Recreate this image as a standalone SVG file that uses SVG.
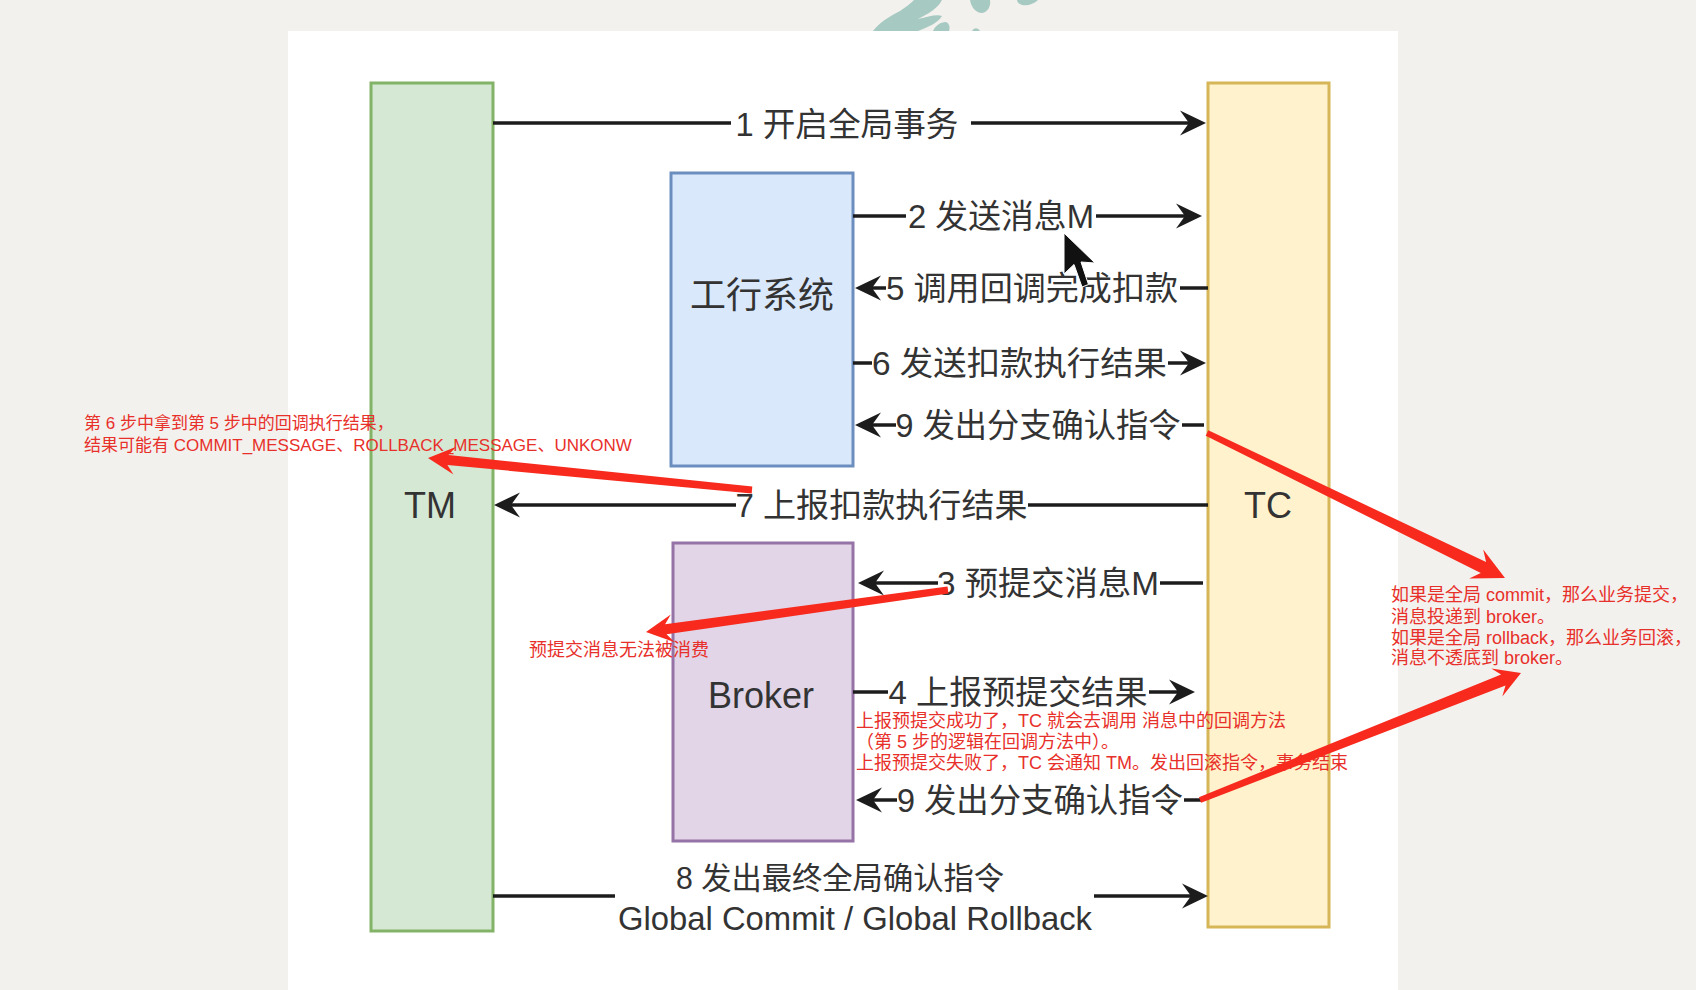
<svg xmlns="http://www.w3.org/2000/svg" width="1696" height="990" viewBox="0 0 1696 990">
<style>
.box{stroke-width:3}
.lbl{font-family:"Liberation Sans","Noto Sans CJK SC",sans-serif;font-size:33px;fill:#333;text-anchor:middle}
.big{font-family:"Liberation Sans","Noto Sans CJK SC",sans-serif;font-size:36px;fill:#333;text-anchor:middle}
.ln{stroke:#1c1c1c;stroke-width:3.5;fill:none}
.note{font-family:"Liberation Sans","Noto Sans CJK SC",sans-serif;font-size:18px;fill:#e8302a}
.red{fill:#f72a1d}
</style>
<defs>
<marker id="ah" viewBox="-19 -13 28 26" refX="0" refY="0" markerWidth="28" markerHeight="26" markerUnits="userSpaceOnUse" orient="auto">
<path d="M8,0 L-18,-12.5 L-9,0 L-18,12.5 Z" fill="#1c1c1c"/>
</marker>
</defs>
<rect x="0" y="0" width="1696" height="990" fill="#f3f1ee"/>
<g id="watermark" fill="#a6c9c2">
<path d="M873,31 C880,22 890,16 900,11 C906,7 911,3 914,0 L942,0 C938,8 928,14 918,19 C928,17 936,14 942,16 C938,23 928,27 918,31 Z"/>
<path d="M933,31 C935,26 940,22 946,22 C950,24 950,28 949,31 Z"/>
<path d="M970,0 L990,0 C991,6 988,12 982,13 C976,13 971,7 970,0 Z"/>
<path d="M1017,0 L1038,0 C1034,4 1028,6 1022,5 C1019,4 1017,2 1017,0 Z"/>
<path d="M972,31 C974,28 977,27 980,31 Z"/>
</g>
<rect x="288" y="31" width="1110" height="959" fill="#ffffff"/>
<g id="node-tm">
<rect class="box" x="371" y="83" width="122" height="848" fill="#d5e8d4" stroke="#82b366"/>
<text class="big" x="430" y="518">TM</text>
</g>
<g id="node-tc">
<rect class="box" x="1208" y="83" width="121" height="844" fill="#fff2cc" stroke="#d6b656"/>
<text class="big" x="1268" y="518">TC</text>
</g>
<g id="node-icbc">
<rect class="box" x="671" y="173" width="182" height="293" fill="#dae8fc" stroke="#6c8ebf"/>
<text class="big" x="762" y="308">工行系统</text>
</g>
<g id="node-broker">
<rect class="box" x="673" y="543" width="180" height="298" fill="#e1d5e7" stroke="#9673a6"/>
<text class="big" x="761" y="708">Broker</text>
</g>
<g id="connectors">
<path class="ln" d="M493,123 H731"/><path class="ln" d="M971,123 H1198" marker-end="url(#ah)"/>
<text class="lbl" x="847" y="136" textLength="223" lengthAdjust="spacingAndGlyphs">1 开启全局事务</text>
<path class="ln" d="M853,216 H906"/><path class="ln" d="M1096,216 H1194" marker-end="url(#ah)"/>
<text class="lbl" x="1001" y="228" textLength="186" lengthAdjust="spacingAndGlyphs">2 发送消息M</text>
<path class="ln" d="M1208,288 H1180"/><path class="ln" d="M886,288 H863" marker-end="url(#ah)"/>
<text class="lbl" x="1032" y="300" textLength="292" lengthAdjust="spacingAndGlyphs">5 调用回调完成扣款</text>
<path class="ln" d="M853,363 H872"/><path class="ln" d="M1168,363 H1198" marker-end="url(#ah)"/>
<text class="lbl" x="1019.5" y="375" textLength="295" lengthAdjust="spacingAndGlyphs">6 发送扣款执行结果</text>
<path class="ln" d="M1204,425 H1182"/><path class="ln" d="M896,425 H863" marker-end="url(#ah)"/>
<text class="lbl" x="1038" y="437" textLength="285" lengthAdjust="spacingAndGlyphs">9 发出分支确认指令</text>
<path class="ln" d="M1208,505 H1028"/><path class="ln" d="M736,505 H502" marker-end="url(#ah)"/>
<text class="lbl" x="881.5" y="517" textLength="292" lengthAdjust="spacingAndGlyphs">7 上报扣款执行结果</text>
<path class="ln" d="M1203,583 H1160"/><path class="ln" d="M938,583 H866" marker-end="url(#ah)"/>
<text class="lbl" x="1048" y="595" textLength="222" lengthAdjust="spacingAndGlyphs">3 预提交消息M</text>
<path class="ln" d="M853,692 H888"/><path class="ln" d="M1149,692 H1187" marker-end="url(#ah)"/>
<text class="lbl" x="1018" y="704" textLength="259" lengthAdjust="spacingAndGlyphs">4 上报预提交结果</text>
<path class="ln" d="M1203,800 H1184"/><path class="ln" d="M897,800 H864" marker-end="url(#ah)"/>
<text class="lbl" x="1040" y="812" textLength="286" lengthAdjust="spacingAndGlyphs">9 发出分支确认指令</text>
<path class="ln" d="M493,896 H615"/><path class="ln" d="M1094,896 H1200" marker-end="url(#ah)"/>
<text class="lbl" x="840" y="889" style="font-size:31px" textLength="328" lengthAdjust="spacingAndGlyphs">8 发出最终全局确认指令</text>
<text class="lbl" x="855" y="930" textLength="474" lengthAdjust="spacingAndGlyphs">Global Commit / Global Rollback</text>
</g>
<g id="cursor">
<path d="M1064,233 L1064,274 L1074,264.5 L1082,287 L1088.5,284.5 L1081,262 L1095,263 Z" fill="#111" stroke="#fff" stroke-width="1"/>
</g>
<g id="annotations">
<text class="note" style="font-size:17px" x="84" y="429">第 6 步中拿到第 5 步中的回调执行结果，</text>
<text class="note" style="font-size:17px" x="84" y="450.5">结果可能有 COMMIT_MESSAGE、ROLLBACK_MESSAGE、UNKONW</text>
<text class="note" x="529" y="656">预提交消息无法被消费</text>
<text class="note" x="856" y="727">上报预提交成功了，TC 就会去调用 消息中的回调方法</text>
<text class="note" x="856" y="748">（第 5 步的逻辑在回调方法中）。</text>
<text class="note" x="856" y="769">上报预提交失败了，TC 会通知 TM。发出回滚指令，事务结束</text>
<text class="note" x="1391" y="601">如果是全局 commit，那么业务提交，</text>
<text class="note" x="1391" y="623">消息投递到 broker。</text>
<text class="note" x="1391" y="643.5">如果是全局 rollback，那么业务回滚，</text>
<text class="note" x="1391" y="663.5">消息不透底到 broker。</text>
<polygon class="red" points="752.3,486.5 448.4,455 456.3,446.7 428,458 453.5,474.6 447.4,465 751.7,493.5"/>
<polygon class="red" points="947.5,586.5 665.1,624.3 670.8,614.4 646,632 674.7,642.2 666.5,634.2 948.5,593.5"/>
<polygon class="red" points="1205.7,435.7 1480.8,572.9 1469.2,578.4 1505,578 1483.2,549.6 1486.1,562.1 1208.3,430.3"/>
<polygon class="red" points="1201.1,802.8 1505.5,685.6 1502.3,696.5 1521,673 1491.3,668.6 1501.1,674.4 1198.9,797.2"/>
</g>
</svg>
